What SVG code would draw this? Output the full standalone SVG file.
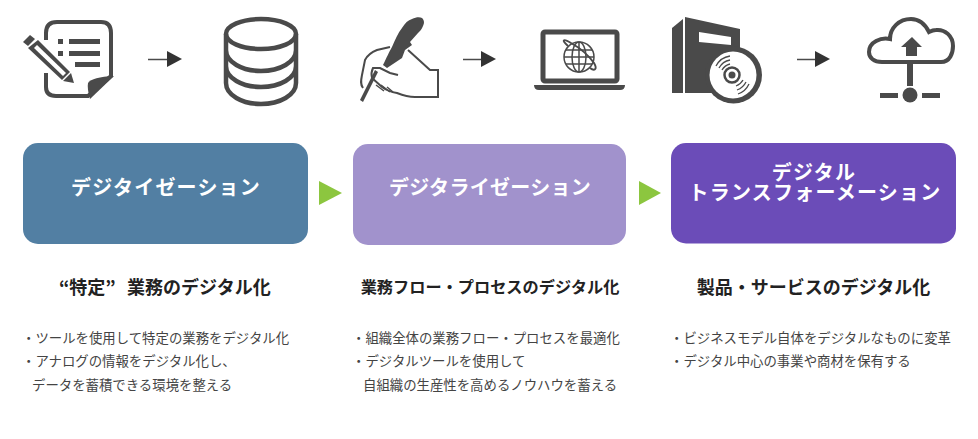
<svg xmlns="http://www.w3.org/2000/svg" width="978" height="439" viewBox="0 0 978 439">
<style>
text{font-family:"Noto Sans CJK JP","Liberation Sans",sans-serif}
.box{font-size:20px;font-weight:700;fill:#fff;text-anchor:middle;letter-spacing:1.2px}
.head{font-size:16.2px;font-weight:700;fill:#222;text-anchor:middle}
.big{font-size:18px}
.body{font-size:13.4px;fill:#444}
.ln{fill:none;stroke:#4a4a4a;stroke-width:4}
.thin{fill:none;stroke:#4a4a4a;stroke-width:2}
.fl{fill:#4a4a4a}
.wh{fill:#fff}
.ga{fill:#8cc63f}
</style>
<defs><path id="tip" d="M0-8V8L15 0Z" fill="#333"/></defs>
<rect width="978" height="439" fill="#fff"/>
<g id="icon-note">
<path class="ln" d="M46 40V33Q46 22 57 22H101Q111 22 111 33V76L88 96H56Q46 96 46 87V73"/>
<path class="fl" d="M114 76 90 99Q87 88 88 83 92 77 114 76Z"/>
<path class="fl" d="M58 39h5v5h-5zM69 39h31v5H69zM58 51h5v5h-5zM69 51h31v5H69zM75 62h25v5H75z"/>
<path class="fl" d="M23 42 30 35 35 39 28 46Z"/>
<path class="fl" d="M28 48 38 40 70 72 62 80Z"/>
<path class="wh" d="M34 48 37 45 66 73 63 76Z"/>
<path class="fl" d="M63 81 71 73 74 83Z"/>
</g>
<g id="icon-database">
<ellipse class="ln" cx="261" cy="34" rx="35" ry="15" style="stroke-width:4.5"/>
<path class="ln" style="stroke-width:4.5" d="M226 34V83C226 95 242 104 261 104S296 95 296 83V34M226 50C226 62 242 71 261 71S296 62 296 50M226 66C226 78 242 87 261 87S296 78 296 66"/>
</g>
<g id="arrow-1"><path class="thin" style="stroke-width:1.500" d="M148 59.500H168"/><use href="#tip" x="167" y="59"/></g>
<g id="icon-pen">
<path class="thin" d="M363 88C360 84 361 80 362 75L365 60C368 54 372 52 377 50L390 47M408 50 430 70H438V97H415C408 97 402 95 397 93 391 92 386 90 382 87L372 78C371 74 372 70 373 68H380L390 73 398 75"/>
<path class="fl" d="M383 65C387 57 389 52 392 47 395 40 398 33 402 28 405 23 408 20 412 19 416 17 420 17 422 18 425 21 424 24 423 26 422 29 420 31 418 33L410 42 412 45 405 50 402 58 387 68Z"/>
<path class="fl" d="M360 100 375 70 378 72 363 102Z"/>
<path class="thin" style="stroke-width:1.500" d="M376 85 384 91M381 85 390 92M387 87 393 92"/>
</g>
<g id="arrow-2"><path class="thin" style="stroke-width:1.500" d="M463 59.500H483"/><use href="#tip" x="481" y="59"/></g>
<g id="icon-laptop">
<rect class="ln" x="543" y="32" width="74" height="49" rx="2" style="stroke-width:5"/>
<path class="fl" d="M534 85H625Q625 90 620 90H539Q534 90 534 85Z"/>
<g class="thin" style="stroke-width:1.500"><circle cx="579" cy="57" r="15"/><ellipse cx="579" cy="57" rx="7" ry="15"/><path d="M579 42V72M564 57H594M566 50H592M566 64H592"/><path style="stroke-width:2" d="M568 46C561 40 563 38 571 43 580 48 589 56 594 63 598 70 594 71 590 68"/></g>
</g>
<g id="icon-software">
<path class="fl" d="M672 28 683 19V93H672Z"/>
<path class="fl" d="M685 17 740 29V93H685Z"/>
<path class="wh" d="M699 32 731 37V45L699 42Z"/>
<circle cx="733.500" cy="75" r="28.500" class="fl"/>
<circle cx="733" cy="75" r="23.500" class="wh"/>
<g class="thin" style="stroke-width:1.300"><path d="M716 66A19 19 0 0 1 730 56M719 68A16 16 0 0 1 730 60M722 70A13 13 0 0 1 730 64M749 84A19 19 0 0 1 738 94M746 82A16 16 0 0 1 737 90M743 80A13 13 0 0 1 736 86"/></g>
<circle cx="732" cy="75" r="7.500" style="fill:none;stroke:#4a4a4a;stroke-width:2.500"/>
<circle cx="732" cy="75" r="3.500" class="fl"/>
</g>
<g id="arrow-3"><path class="thin" style="stroke-width:1.500" d="M797 59.500H817"/><use href="#tip" x="815" y="59"/></g>
<g id="icon-cloud">
<path class="ln" d="M882 62H941C950 62 953 53 953 46 953 36 945 29 936 30 933 30 931 31 929 32 925 24 919 19 911 19 899 19 890 28 890 39 881 37 869 42 869 52 869 58 874 62 882 62Z"/>
<path class="fl" d="M912 37 922 47H917V56H906V47H901Z"/>
<path class="fl" d="M907 64h6v22h-6zM880 93h18v5h-18zM922 93h18v5h-18z"/>
<circle class="fl" cx="910" cy="95" r="7.500"/>
</g>
<g id="box-1"><rect x="23" y="143" width="285" height="101" rx="15" fill="#527fa3"/><text class="box" x="166" y="195">デジタイゼーション</text></g>
<g id="box-2"><rect x="353" y="144" width="273" height="101" rx="15" fill="#a192cc"/><text class="box" x="490" y="195" style="letter-spacing:.3px">デジタライゼーション</text></g>
<g id="box-3"><rect x="671" y="143" width="285" height="100.500" rx="15" fill="#6b4cb8"/><text class="box"><tspan x="814" y="180">デジタル</tspan><tspan x="815" y="200">トランスフォーメーション</tspan></text></g>
<g id="connectors">
<path class="ga" d="M319 181 342 193 319 205Z"/>
<path class="ga" d="M639 181 661 193 639 205Z"/>
</g>
<g id="col-1">
<text class="head big" y="294" style="text-anchor:start"><tspan x="59">“特定”</tspan><tspan x="127">業務のデジタル化</tspan></text>
<text class="body" x="22" y="343">・ツールを使用して特定の業務をデジタル化</text>
<text class="body" x="22" y="366">・アナログの情報をデジタル化し、</text>
<text class="body" x="32" y="390">データを蓄積できる環境を整える</text>
</g>
<g id="col-2">
<text class="head" x="490" y="293">業務フロー・プロセスのデジタル化</text>
<text class="body" x="352" y="343">・組織全体の業務フロー・プロセスを最適化</text>
<text class="body" x="352" y="366">・デジタルツールを使用して</text>
<text class="body" x="363" y="390">自組織の生産性を高めるノウハウを蓄える</text>
</g>
<g id="col-3">
<text class="head big" x="813.500" y="294">製品・サービスのデジタル化</text>
<text class="body" x="670" y="343">・ビジネスモデル自体をデジタルなものに変革</text>
<text class="body" x="670" y="366">・デジタル中心の事業や商材を保有する</text>
</g>
</svg>
